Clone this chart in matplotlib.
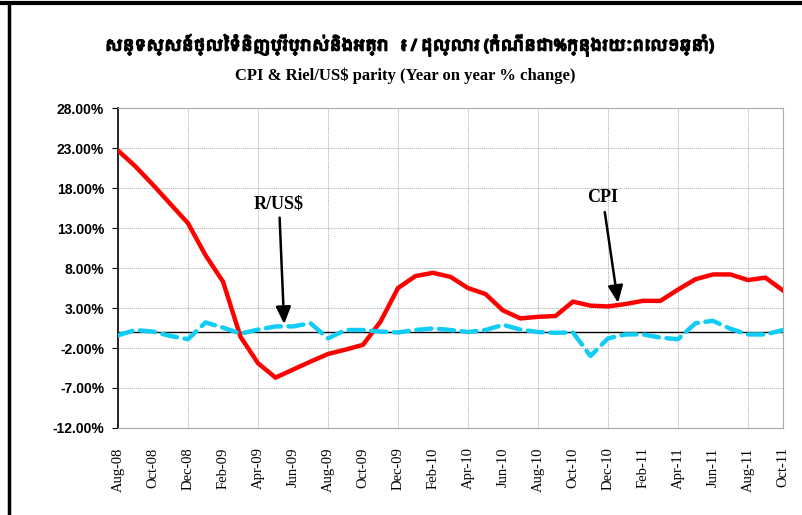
import matplotlib
matplotlib.use("Agg")
import matplotlib.pyplot as plt
import matplotlib.patheffects as pe
from matplotlib import font_manager
from matplotlib.lines import Line2D
import numpy as np

# months Aug-08 .. Oct-11
months = ["Aug-08", "Sep-08", "Oct-08", "Nov-08", "Dec-08", "Jan-09", "Feb-09", "Mar-09",
          "Apr-09", "May-09", "Jun-09", "Jul-09", "Aug-09", "Sep-09", "Oct-09", "Nov-09",
          "Dec-09", "Jan-10", "Feb-10", "Mar-10", "Apr-10", "May-10", "Jun-10", "Jul-10",
          "Aug-10", "Sep-10", "Oct-10", "Nov-10", "Dec-10", "Jan-11", "Feb-11", "Mar-11",
          "Apr-11", "May-11", "Jun-11", "Jul-11", "Aug-11", "Sep-11", "Oct-11"]

cpi = [22.7, 20.7, 18.4, 16.0, 13.6, 9.6, 6.3, -0.6, -3.9, -5.7, -4.7, -3.7, -2.75,
       -2.2, -1.6, 1.3, 5.5, 7.0, 7.4, 6.9, 5.5, 4.75, 2.7, 1.7, 1.9, 2.0, 3.8, 3.3,
       3.2, 3.5, 3.9, 3.9, 5.3, 6.6, 7.2, 7.2, 6.5, 6.8, 5.2]

riel_usd = [-0.4, 0.25, 0.05, -0.5, -0.9, 1.2, 0.55, -0.2, 0.3, 0.7, 0.7, 1.1, -0.8,
            0.25, 0.25, 0.05, -0.05, 0.25, 0.45, 0.25, 0.0, 0.25, 0.9, 0.3, 0.0, -0.1,
            -0.05, -3.0, -0.8, -0.3, -0.3, -0.7, -0.9, 1.1, 1.4, 0.4, -0.3, -0.3, 0.25]

y_ticks = [-12, -7, -2, 3, 8, 13, 18, 23, 28]

title_km = "សន្ទស្សន៍ថ្លៃទំនិញប្រើប្រាស់និងអត្រា   ៛ / ដុល្លារ (កំណើនជា%ក្នុងរយៈពេល១ឆ្នាំ)"
title_en = "CPI & Riel/US$ parity (Year on year % change)"

# look for any installed font that can draw Khmer
khmer_fonts = [f.name for f in font_manager.fontManager.ttflist if "khmer" in f.name.lower()]
title_family = khmer_fonts[:1] + ["DejaVu Sans"]

fig = plt.figure(figsize=(8.03, 5.15), dpi=100)
ax = fig.add_axes([0.147, 0.169, 0.828, 0.621])

x = np.arange(len(months))
ax.plot(x, cpi, color="#FF0000", lw=3.2, solid_joinstyle="miter", zorder=3)
ax.plot(x, riel_usd, color="#11CCF5", lw=3.2, dashes=(3.4, 1.7), dash_capstyle="round", zorder=3)
ax.axhline(0, color="black", lw=1.0, zorder=2)

ax.set_xlim(0, len(months) - 1)
ax.set_ylim(-12, 28)
ax.set_yticks(y_ticks)
ax.set_yticklabels(["%.2f%%" % v for v in y_ticks], fontfamily="Liberation Sans",
                   fontweight="bold", fontsize=10)
ax.set_xticks(x[::2])
ax.set_xticklabels(months[::2], rotation=90, fontfamily="Liberation Serif", fontsize=10.5)
ax.tick_params(axis="x", length=0, pad=14)
ax.tick_params(axis="y", length=4, width=0.8, direction="out", pad=6)

# grid: horizontal every 5%, vertical every 4 months
for v in y_ticks:
    ax.axhline(v, color="#AAAAAA", lw=0.7, ls=(0, (1, 1)), zorder=1)
for i in x[4::4]:
    ax.axvline(i, color="#AAAAAA", lw=0.7, ls=(0, (1, 1)), zorder=1)

for s in ["top", "right", "bottom"]:
    ax.spines[s].set_color("#AAAAAA")
    ax.spines[s].set_linewidth(0.8)
ax.spines["left"].set_color("black")
ax.spines["left"].set_linewidth(1.2)

# arrow annotations
ax.annotate("R/US$", xy=(9.5, 0.65), xytext=(9.2, 15.0), ha="center", va="bottom",
            fontfamily="Liberation Serif", fontweight="bold", fontsize=13,
            arrowprops=dict(arrowstyle="-|>,head_length=0.8,head_width=0.35", color="black", lw=1.8))
ax.annotate("CPI", xy=(28.6, 3.3), xytext=(27.7, 15.7), ha="center", va="bottom",
            fontfamily="Liberation Serif", fontweight="bold", fontsize=13,
            arrowprops=dict(arrowstyle="-|>,head_length=0.8,head_width=0.35", color="black", lw=1.8))

# Khmer font has no bold face, so thicken it with a stroke
t_km = fig.text(0.51, 0.912, title_km, ha="center", va="center", fontsize=17,
                fontweight="bold", family=title_family,
                path_effects=[pe.withStroke(linewidth=1.3, foreground="black")])
fig.text(0.505, 0.852, title_en, ha="center", va="center", fontsize=12,
         fontweight="bold", family="Liberation Serif")

# shrink the Khmer title so it spans about the same width as in the original
fig.canvas.draw()
w = t_km.get_window_extent().width
if w > 610:
    t_km.set_fontsize(17 * 610 / w)

# outer frame lines (top and left)
fig.add_artist(Line2D([0, 1], [0.994, 0.994], transform=fig.transFigure, color="black", lw=3))
fig.add_artist(Line2D([0.0115, 0.0115], [0, 0.994], transform=fig.transFigure, color="black", lw=2.5))

fig.savefig("out.png", dpi=100)
